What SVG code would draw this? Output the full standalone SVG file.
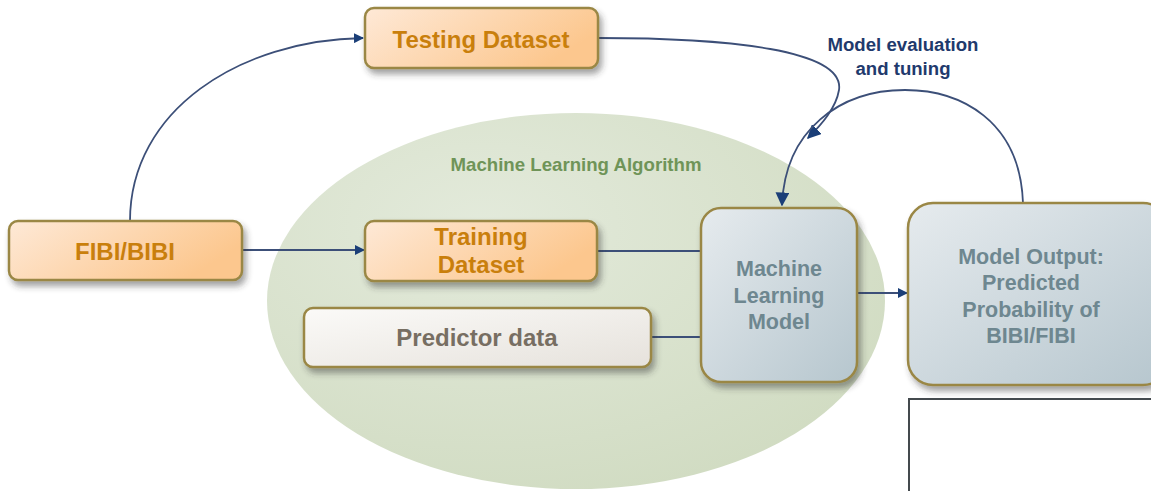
<svg xmlns="http://www.w3.org/2000/svg" width="1151" height="491" viewBox="0 0 1151 491">
  <style>
    .lbl { font-family: "Liberation Sans", Arial, sans-serif; font-weight: bold; text-anchor: middle; }
    .orange { fill: #c97f0c; font-size: 24px; }
    .slate { fill: #6e8790; font-size: 21.5px; }
    .grey { fill: #776e62; font-size: 24px; }
    .box { stroke: #9a8745; stroke-width: 2.5; filter: url(#shadow); }
    .conn { fill: none; stroke: #3c4f78; stroke-width: 1.8; }
    .head { fill: #1b3f78; }
  </style>
  <defs>
    <filter id="shadow" x="-20%" y="-20%" width="140%" height="150%">
      <feDropShadow dx="3" dy="5" stdDeviation="3" flood-color="#333" flood-opacity="0.45"/>
    </filter>
    <linearGradient id="gOrange" x1="0" y1="0" x2="1" y2="0.4">
      <stop offset="0" stop-color="#fee9d7"/>
      <stop offset="1" stop-color="#fcc78e"/>
    </linearGradient>
    <linearGradient id="gSlate" x1="0" y1="0" x2="1" y2="1">
      <stop offset="0" stop-color="#e6ebee"/>
      <stop offset="1" stop-color="#b6c6ce"/>
    </linearGradient>
    <linearGradient id="gGrey" x1="0" y1="0" x2="1" y2="1">
      <stop offset="0" stop-color="#fbfaf8"/>
      <stop offset="1" stop-color="#e6e2dc"/>
    </linearGradient>
    <radialGradient id="gGreen" cx="0.35" cy="0.3" r="0.8">
      <stop offset="0" stop-color="#e3eadb"/>
      <stop offset="1" stop-color="#d0dbc1"/>
    </radialGradient>
    <marker id="arrow" viewBox="0 0 10 10" refX="9" refY="5" markerWidth="10" markerHeight="10" markerUnits="userSpaceOnUse" orient="auto">
      <path class="head" d="M0,0 L10,5 L0,10 Z"/>
    </marker>
    <marker id="arrowBig" viewBox="0 0 10 10" refX="9" refY="5" markerWidth="14" markerHeight="14" markerUnits="userSpaceOnUse" orient="auto">
      <path class="head" d="M0,0 L10,5 L0,10 Z"/>
    </marker>
  </defs>

  <rect width="1151" height="491" fill="#ffffff"/>

  <!-- algorithm region -->
  <g id="algorithm">
    <ellipse cx="576" cy="301" rx="309" ry="188" fill="url(#gGreen)"/>
    <text class="lbl" x="576" y="171" font-size="19" fill="#6f9458" textLength="251" lengthAdjust="spacingAndGlyphs">Machine Learning Algorithm</text>
  </g>

  <!-- connectors -->
  <g id="connectors">
    <path class="conn" d="M130,221 C130,110 240,40 363,38" marker-end="url(#arrow)"/>
    <path class="conn" d="M242,250 L364,250" marker-end="url(#arrow)"/>
    <path class="conn" d="M597,251 L701,251"/>
    <path class="conn" d="M651,337 L701,337"/>
    <path class="conn" d="M857,293 L907,293" marker-end="url(#arrow)"/>
    <path class="conn" d="M598,38 C730,38 845,50 839,90 C836,108 822,124 808,138" marker-end="url(#arrowBig)"/>
    <path class="conn" d="M1023,203 C1020,120 960,90 905,90 C840,90 785,130 782,205" marker-end="url(#arrowBig)"/>
    <text class="lbl" x="903" y="51" font-size="18" fill="#1f3a6d" textLength="151" lengthAdjust="spacingAndGlyphs">Model evaluation</text>
    <text class="lbl" x="903" y="75" font-size="18" fill="#1f3a6d" textLength="95" lengthAdjust="spacingAndGlyphs">and tuning</text>
  </g>

  <g id="fibi-bibi">
    <rect class="box" x="9" y="221" width="233" height="59" rx="9" fill="url(#gOrange)"/>
    <text class="lbl orange" x="125" y="260">FIBI/BIBI</text>
  </g>

  <g id="testing-dataset">
    <rect class="box" x="365" y="8" width="233" height="60" rx="9" fill="url(#gOrange)"/>
    <text class="lbl orange" x="481" y="48">Testing Dataset</text>
  </g>

  <g id="training-dataset">
    <rect class="box" x="365" y="221" width="232" height="60" rx="9" fill="url(#gOrange)"/>
    <text class="lbl orange" x="481" y="245">Training</text>
    <text class="lbl orange" x="481" y="273">Dataset</text>
  </g>

  <g id="predictor-data">
    <rect class="box" x="304" y="308" width="347" height="59" rx="9" fill="url(#gGrey)"/>
    <text class="lbl grey" x="477" y="346">Predictor data</text>
  </g>

  <g id="ml-model">
    <rect class="box" x="701" y="208" width="156" height="174" rx="20" fill="url(#gSlate)"/>
    <text class="lbl slate" x="779" y="276">Machine</text>
    <text class="lbl slate" x="779" y="303">Learning</text>
    <text class="lbl slate" x="779" y="329">Model</text>
  </g>

  <g id="model-output">
    <rect class="box" x="908" y="203" width="260" height="182" rx="25" fill="url(#gSlate)"/>
    <text class="lbl slate" x="1031" y="264">Model Output:</text>
    <text class="lbl slate" x="1031" y="290">Predicted</text>
    <text class="lbl slate" x="1031" y="317">Probability of</text>
    <text class="lbl slate" x="1031" y="343">BIBI/FIBI</text>
  </g>

  <g id="blank-panel">
    <rect x="909" y="399" width="260" height="110" fill="#ffffff" stroke="#444a4e" stroke-width="2"/>
  </g>
</svg>
